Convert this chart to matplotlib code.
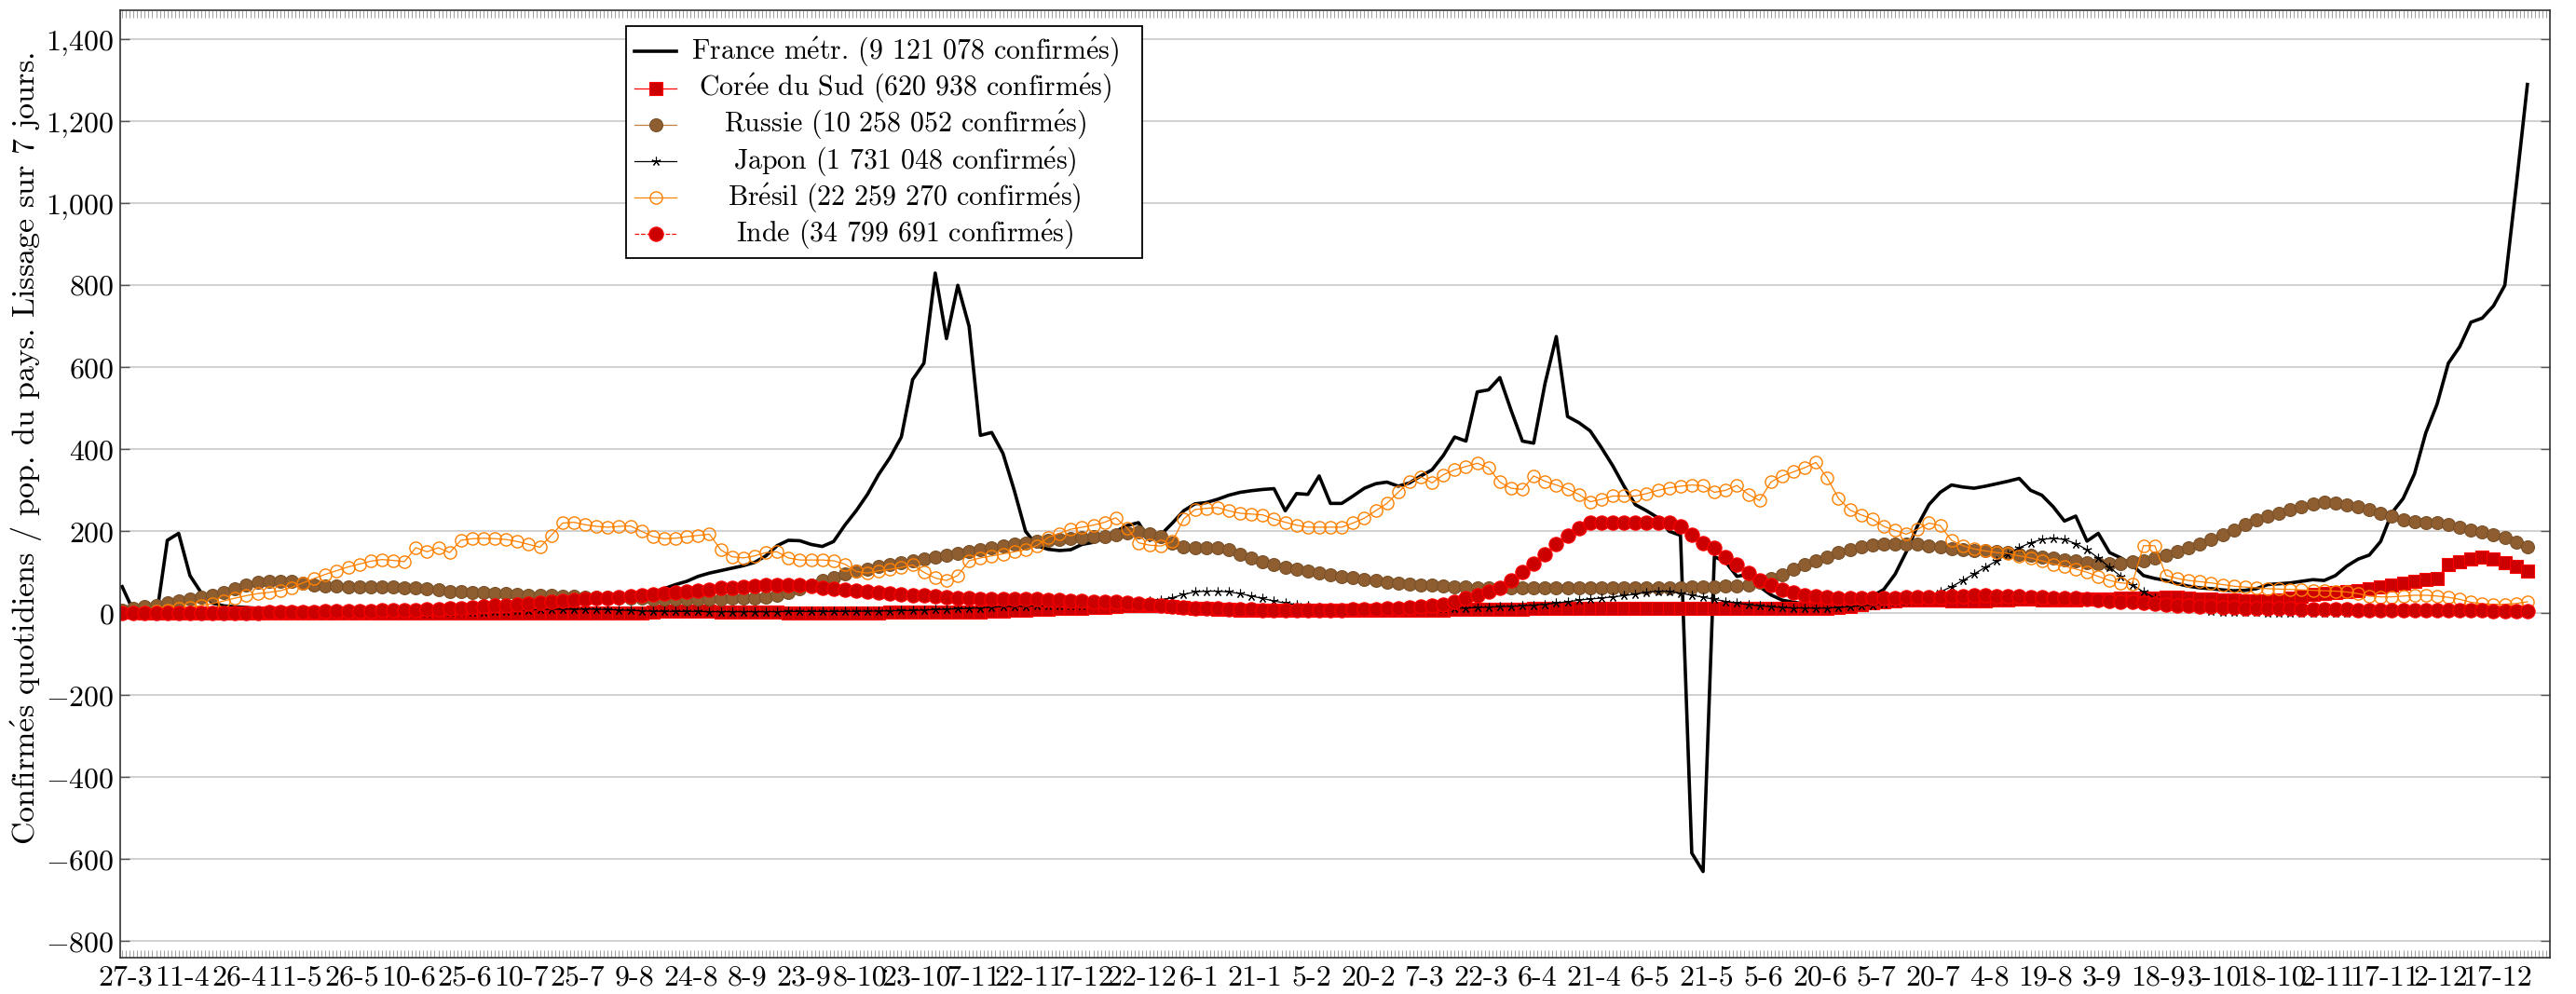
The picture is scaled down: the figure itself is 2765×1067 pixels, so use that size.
import pandas as pd
import matplotlib
matplotlib.use('Agg')
import matplotlib.pyplot as plt
import matplotlib.dates as mdates
from matplotlib.patches import Rectangle
from matplotlib.ticker import FuncFormatter

plt.rcParams['font.family'] = ['cmr10', 'DejaVu Serif']
plt.rcParams['mathtext.fontset'] = 'cm'
plt.rcParams['axes.formatter.use_mathtext'] = True

# daily confirmed cases per million, 7-day smoothing, one value every 3 days from 26-3-2020
start_date = '2020-03-26'

france = [65, 5, -5, -14, 178, 195, 92, 50, 25, 18,
          16, 14, 12, 11, 10, 9, 8, 8, 7, 6,
          6, 6, 6, 6, 7, 7, 7, 8, 8, 9,
          10, 11, 12, 12, 13, 14, 15, 16, 17, 19,
          21, 24, 27, 31, 35, 40, 46, 52, 60, 70,
          78, 90, 98, 104, 110, 116, 124, 140, 165, 178,
          177, 168, 163, 175, 215, 250, 290, 339, 380, 430,
          570, 610, 830, 670, 800, 700, 434, 441, 390, 300,
          200, 165, 156, 153, 155, 168, 173, 185, 200, 214,
          221, 178, 192, 220, 250, 267, 270, 278, 288, 295,
          299, 302, 304, 250, 292, 290, 335, 268, 268, 286,
          305, 316, 320, 310, 318, 335, 350, 385, 430, 420,
          540, 545, 575, 495, 420, 415, 560, 675, 480, 465,
          445, 404, 360, 310, 265, 250, 233, 200, 190, -585,
          -630, 138, 125, 90, 95, 65, 45, 32, 27, 23,
          20, 18, 18, 22, 30, 42, 58, 95, 150, 214,
          265, 295, 313, 308, 305, 310, 316, 322, 329, 300,
          288, 260, 225, 237, 176, 195, 148, 135, 118, 92,
          85, 80, 72, 66, 62, 60, 57, 55, 56, 60,
          70, 72, 74, 78, 82, 80, 92, 115, 132, 142,
          175, 245, 280, 340, 440, 510, 610, 650, 710, 720,
          750, 800, 1040, 1290]

coree = [2, 2, 1.8, 1.5, 1.2, 1, 0.8, 0.6, 0.5, 0.4,
         0.3, 0.3, 0.3, 0.4, 0.5, 0.6, 0.7, 0.8, 0.8, 0.8,
         0.8, 0.9, 0.9, 0.9, 0.9, 0.9, 0.9, 1, 1, 1,
         1, 1, 1, 0.9, 0.9, 0.8, 0.8, 0.8, 0.8, 0.8,
         0.8, 0.8, 0.8, 0.9, 1, 1, 1.5, 3, 5, 6,
         6, 5.5, 5, 4, 3, 2.5, 2.2, 2, 2, 1.8,
         1.8, 1.6, 1.5, 1.5, 1.5, 1.7, 1.8, 1.8, 2, 2.2,
         2.2, 2.5, 2.5, 2.7, 3, 3.5, 4, 5, 6, 7,
         8, 9, 10, 11, 12, 13, 14, 15, 17, 19,
         20, 20, 19, 17, 15, 13, 11, 10, 9, 8,
         7.5, 7, 7, 7, 8, 8.5, 8.5, 8, 8, 8,
         8, 8.5, 8.5, 8.5, 8.5, 8.5, 8.5, 8.5, 9, 9,
         9, 9, 9.5, 10, 10.5, 11, 11.5, 12, 12, 12,
         12, 12, 12, 11.5, 11, 11, 11, 11, 11, 11,
         11, 11, 11, 11, 11, 11, 11, 11, 11, 11.5,
         12, 13, 14, 17, 22, 26, 29, 31, 32, 33,
         33, 32, 31, 30, 30, 31, 32, 33, 34, 34,
         33, 32, 32, 33, 34, 34, 35, 36, 37, 37,
         38, 40, 39, 37, 35, 34, 33, 32, 31, 31,
         31, 32, 36, 42, 46, 48, 50, 53, 55, 60,
         65, 70, 74, 78, 82, 84, 120, 126, 132, 136,
         132, 124, 114, 104]

russie = [8, 12, 16, 20, 25, 30, 35, 40, 45, 50,
          60, 70, 76, 79, 79, 77, 74, 70, 67, 66,
          65, 65, 65, 65, 64, 63, 62, 60, 57, 54,
          52, 51, 50, 49, 48, 47, 45, 44, 43, 42,
          41, 40, 40, 39, 38, 37, 36, 35, 34, 34,
          34, 34, 35, 35, 36, 37, 38, 40, 44, 50,
          60, 70, 80, 88, 96, 103, 108, 114, 119, 124,
          128, 132, 137, 141, 146, 151, 155, 160, 164, 168,
          172, 175, 178, 180, 182, 184, 186, 188, 192, 196,
          198, 194, 186, 172, 162, 159, 160, 160, 155, 145,
          135, 126, 118, 112, 107, 102, 98, 94, 90, 86,
          83, 80, 76, 73, 71, 69, 68, 66, 65, 64,
          63, 62, 62, 62, 61, 61, 61, 61, 62, 62,
          62, 62, 62, 62, 61, 61, 61, 62, 63, 64,
          65, 65, 66, 67, 70, 76, 84, 95, 108, 118,
          128, 138, 148, 156, 162, 166, 168, 170, 170, 168,
          165, 162, 158, 156, 154, 152, 150, 148, 145, 141,
          138, 134, 131, 127, 124, 122, 121, 122, 125, 129,
          135, 142, 150, 160, 170, 180, 192, 204, 216, 228,
          237, 244, 252, 260, 266, 270, 268, 265, 260, 252,
          244, 236, 228, 224, 222, 220, 216, 210, 204, 198,
          192, 184, 174, 163]

japon = [0.5, 1, 1.5, 2, 3, 3, 4, 4, 4, 3.5,
         3, 2.5, 2, 1.5, 1, 0.5, 0.5, 0.5, 0.3, 0.3,
         0.4, 0.4, 0.5, 0.6, 0.8, 1, 1.2, 1.5, 2, 2.5,
         3, 3.5, 4, 5, 6, 7, 8, 9, 10, 10,
         10, 10, 10, 9, 8, 7, 6, 5, 5, 4.5,
         4.5, 4.5, 4, 4, 4, 4, 4, 4, 4, 4.5,
         4.5, 4.5, 4.5, 4.5, 4.5, 5, 5, 5.5, 6, 6.5,
         7, 8, 9, 10, 11, 12, 13, 15, 16, 17,
         17, 18, 18, 19, 19, 20, 21, 22, 24, 26,
         28, 30, 33, 38, 46, 52, 54, 54, 52, 48,
         42, 36, 30, 25, 21, 18, 15, 13, 11, 10,
         9, 9, 9, 9, 10, 10, 11, 11, 12, 13,
         14, 15, 16, 17, 18, 20, 22, 25, 28, 32,
         35, 37, 40, 43, 47, 51, 54, 53, 49, 44,
         39, 34, 29, 25, 21, 18, 16, 14, 13, 13,
         12, 13, 14, 16, 18, 20, 23, 27, 31, 36,
         42, 52, 65, 80, 96, 112, 128, 145, 160, 172,
         180, 183, 180, 170, 155, 135, 112, 90, 70, 52,
         38, 27, 19, 13, 9, 6, 4, 3, 2.5, 2,
         1.5, 1.2, 1, 1, 1, 1, 1, 1, 1, 1,
         1, 1, 1, 1, 1, 1, 1, 1, 1, 1.2,
         1.3, 1.5, 1.8, 2]

bresil = [0.5, 1.5, 3, 5, 8, 12, 15, 19, 24, 30,
          37, 43, 48, 51, 55, 63, 74, 85, 95, 104,
          113, 120, 127, 131, 129, 126, 160, 150, 160, 148,
          178, 182, 183, 182, 180, 175, 168, 161, 190, 220,
          222, 216, 212, 210, 212, 213, 200, 187, 182, 183,
          187, 190, 193, 155, 138, 135, 140, 148, 150, 135,
          130, 130, 130, 128, 120, 102, 98, 104, 107, 112,
          118, 100, 86, 80, 92, 128, 135, 140, 145, 150,
          155, 165, 185, 195, 205, 210, 215, 222, 233, 208,
          172, 166, 164, 175, 230, 253, 256, 258, 250, 244,
          242, 240, 230, 222, 215, 210, 210, 210, 210, 220,
          232, 250, 268, 295, 320, 333, 318, 338, 350, 358,
          366, 355, 320, 305, 302, 335, 322, 313, 303, 290,
          272, 278, 286, 286, 286, 292, 300, 306, 310, 313,
          311, 295, 300, 312, 290, 275, 320, 335, 345, 355,
          368, 330, 280, 252, 240, 230, 212, 202, 193, 205,
          220, 214, 178, 165, 157, 152, 148, 146, 140, 135,
          128, 120, 115, 108, 100, 90, 80, 74, 72, 165,
          165, 92, 85, 80, 77, 74, 70, 66, 64, 62,
          60, 59, 58, 57, 56, 55, 54, 52, 48, 42,
          40, 40, 42, 44, 44, 42, 39, 34, 27, 23,
          22, 22, 24, 28]

inde = [0, 0, 0, 0.1, 0.2, 0.3, 0.5, 0.6, 0.8, 1,
        1.1, 1.3, 1.6, 2, 2.4, 2.8, 3.3, 4, 4.6, 5,
        5, 5.5, 6, 6.5, 7, 8, 8.5, 9, 10, 11,
        12, 14, 16, 18, 20, 22, 24, 26, 28, 30,
        32, 34, 36, 38, 40, 42, 44, 46, 48, 50,
        52, 55, 58, 61, 63, 65, 67, 68, 69, 69,
        68, 66, 63, 60, 57, 55, 53, 51, 49, 47,
        45, 43, 41, 39, 37, 36, 35, 35, 35, 35,
        35, 34, 33, 32, 31, 30, 29, 28, 27, 25,
        23, 21, 19, 17, 15, 13, 12, 11, 10, 9.5,
        9, 8.5, 8, 8, 8, 8, 8, 8, 8.5, 9,
        9.5, 10, 11, 12, 14, 16, 19, 22, 28, 36,
        44, 52, 62, 80, 100, 122, 145, 168, 190, 208,
        220, 222, 222, 222, 222, 222, 222, 220, 212, 192,
        172, 160, 138, 118, 98, 81, 68, 58, 50, 45,
        41, 39, 38, 37, 36, 36, 37, 38, 39, 40,
        40, 40, 41, 42, 43, 43, 42, 42, 41, 40,
        39, 38, 37, 36, 35, 33, 31, 29, 27, 25,
        24, 22, 20, 18, 17, 16, 15, 14, 13, 12,
        12, 11, 11, 10, 10, 9.5, 9, 9, 8.5, 8.5,
        8, 8, 7.5, 7.5, 7, 7, 7, 6.5, 6.5, 6.5,
        6, 6, 6, 6]

labels = ['France métr. (9 121 078 confirmés)',
          'Corée du Sud (620 938 confirmés)',
          'Russie (10 258 052 confirmés)',
          'Japon (1 731 048 confirmés)',
          'Brésil (22 259 270 confirmés)',
          'Inde (34 799 691 confirmés)']
ylabel = 'Confirmés quotidiens / pop. du pays. Lissage sur 7 jours.'

tick_dates = pd.date_range('2020-03-27', '2021-12-17', freq='15D')
tick_labels = [f'{d.day}-{d.month}' for d in tick_dates]


def cm_text(s):
    # cmr10 has no precomposed é, so let mathtext put the accent on
    return s.replace('é', r'$\acute{\mathrm{e}}$')


dates = pd.date_range(start_date, periods=len(france), freq='3D')

styles = [
    dict(color='black', lw=2.6),
    dict(color='red', lw=0.9, marker='s', ms=9.5, mfc='#cc0000', mec='red', mew=0.8),
    dict(color='#bf8040', lw=0.9, marker='o', ms=10, mfc='#8e5e30', mec='#7a5028', mew=0.8),
    dict(color='black', lw=0.9, marker=(5, 2, 0), ms=7, mec='black', mew=0.8),
    dict(color='#ff8000', lw=0.9, marker='o', ms=9.5, mfc='none', mec='#ff8000', mew=1.0),
    dict(color='red', lw=0.9, ls='--', marker='o', ms=11, mfc='#cc0000', mec='red', mew=0.8),
]
series = [france, coree, russie, japon, bresil, inde]

fig = plt.figure(figsize=(27.65, 10.67), dpi=100)
ax = fig.add_axes([0.0467, 0.0366, 0.9432, 0.9535])

for vals, st in zip(series, styles):
    ax.plot(dates, vals, **st)

ax.set_xlim(pd.Timestamp('2020-03-25 12:00'), pd.Timestamp('2021-12-31'))
ax.set_ylim(-840, 1472)

ax.set_xticks(tick_dates)
ax.set_xticklabels(tick_labels)
ax.xaxis.set_minor_locator(mdates.DayLocator())
ax.set_yticks(range(-800, 1401, 200))
ax.yaxis.set_major_formatter(FuncFormatter(
    lambda v, p: '$' + format(int(v), ',').replace(',', '{,}') + '$'))

ax.tick_params(axis='x', which='both', direction='in', top=True, bottom=True,
               length=6, width=0.7, color='#a0a0a0', labelsize=23, pad=6)
ax.tick_params(axis='y', which='major', direction='in', left=True, right=True,
               length=7, width=1.0, color='#555555', labelsize=23, pad=5)
ax.grid(axis='y', color='#c8c8c8', lw=1.2)
ax.set_axisbelow(True)
for sp in ax.spines.values():
    sp.set_color('#333333')
    sp.set_linewidth(1.2)

ax.set_ylabel(cm_text(ylabel), fontsize=24.5)
ax.yaxis.set_label_coords(-0.0315, 0.537)

# legend box drawn by hand so the texts can be centred like in pgfplots
ax.add_patch(Rectangle((0.2082, 0.7383), 0.2124, 0.2447, transform=ax.transAxes,
                       facecolor='white', edgecolor='black', lw=1.3,
                       zorder=10, clip_on=False))
mark_keys = ('marker', 'ms', 'mfc', 'mec', 'mew')
for i, (lab, st) in enumerate(zip(labels, styles)):
    yy = 1 - (55.4 + 39.2 * i - 10.6) / 1018
    line_st = {k: v for k, v in st.items() if k not in mark_keys}
    ax.plot([0.2118, 0.2289], [yy, yy], transform=ax.transAxes, zorder=11,
            clip_on=False, **line_st)
    if 'marker' in st:
        mk = {k: v for k, v in st.items() if k in mark_keys + ('color',)}
        ax.plot([0.2204], [yy], transform=ax.transAxes, zorder=12, clip_on=False,
                ls='none', **mk)
    ax.text(0.3229, yy, cm_text(lab), transform=ax.transAxes, ha='center',
            va='center', fontsize=21.5, zorder=12)

fig.savefig('out.png', dpi=100)
